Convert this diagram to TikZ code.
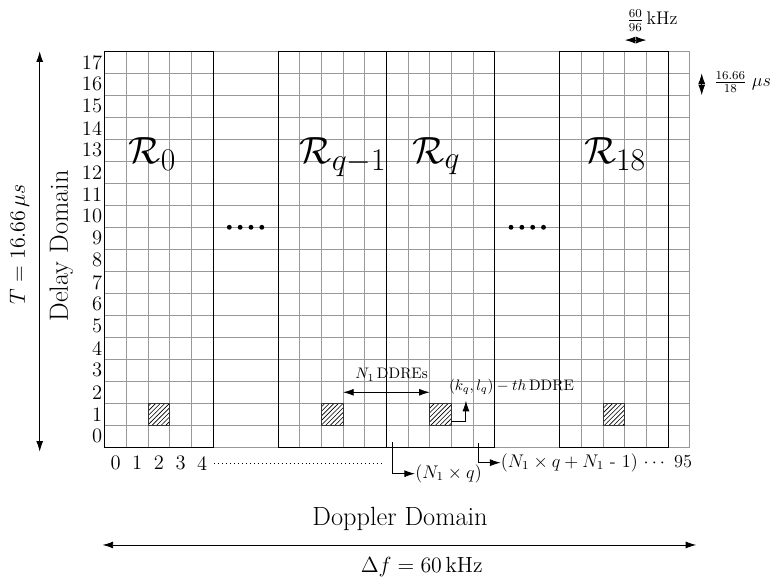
\documentclass[tikz,border=0pt]{standalone}
\usepackage{tikz}
\usetikzlibrary{arrows.meta, positioning, calc, patterns}
\usepackage{amsmath}
\usepackage{amssymb}
\tikzset{
    gridline/.style={draw=black!40, line width=0.5pt},
    block/.style={draw=black, line width=0.7pt},
    hatched/.style={draw=black!80, line width=0.4pt, pattern=north east lines},
    reglabel/.style={font=\Huge, inner sep=0pt, anchor=base},
    idxlabel/.style={font=\fontsize{13.5}{16}\selectfont, inner sep=1.5pt},
    sidelabel/.style={rotate=90, inner sep=0pt},
    note/.style={inner sep=0pt},
    arrow/.style={line width=0.6pt,->,>={Latex[length=7pt,width=4.6pt]}},
    dblarrow/.style={line width=0.6pt,<->,>={Latex[length=7pt,width=4.6pt]}}
}
\begin{document}
\begin{tikzpicture}[x=0.5cm, y=0.5076cm]
    \useasboundingbox (-4.832,-6.123) rectangle (31.255,20.332);

    \foreach \j in {0,...,18} \draw [gridline] (0,\j) -- (27,\j);
    \foreach \i in {0,1,2,3,4,5,8,9,...,18,21,22,...,27} \draw [gridline] (\i,0) -- (\i,18);
    \foreach \c in {2,10,15,23} \draw [hatched] (\c,1) rectangle ++(1,1);
    \draw [block] (0,0) rectangle (5,18);
    \draw [block] (8,0) rectangle (13,18);
    \draw [block] (13,0) rectangle (18,18);
    \draw [block] (21,0) rectangle (26,18);

    \foreach \k in {0,...,3} {
        \fill (5.75+0.5*\k,10) circle (1.6pt);
        \fill (18.75+0.5*\k,10) circle (1.6pt);
    }

    \node (r0) [reglabel] at (2.2,12.92) {$\mathcal{R}_0$};
    \node (rqm) [reglabel] at (11.0,12.92) {$\mathcal{R}_{q-1}$};
    \node (rq) [reglabel] at (15.3,12.92) {$\mathcal{R}_q$};
    \node (r18) [reglabel] at (23.55,12.92) {$\mathcal{R}_{18}$};

    \foreach \j in {0,...,17} \node (row\j) [idxlabel, anchor=east] at (0,\j+0.5) {\j};
    \foreach \i in {0,...,4} \node (col\i) [idxlabel] at (\i+0.5,-0.72) {\i};

    \coordinate (dotend) at (12.86,-0.72);
    \draw [dotted, line width=0.6pt] ([xshift=3pt]col4.east) -- (dotend);

    \coordinate (qs) at (13.27,0.25);
    \node (nq) [note, font=\large, anchor=west] at (14.32,-1.2) {$(N_1 \times q)$};
    \draw [arrow] (qs) |- (nq.west);

    \coordinate (qe) at (17.27,0.2);
    \node (nqe) [note, font=\large, anchor=west] at (18.27,-0.7) {$(N_1 \times q + N_1$ - $1)$ $\cdots$ 95};
    \draw [arrow] (qe) |- (nqe.west);

    \coordinate (nl) at (11,2.5);
    \coordinate (nr) at (15,2.5);
    \draw [dblarrow] (nl) -- (nr);
    \node (ndd) [note] at (13.24,3.29) {$N_1\,$DDREs};

    \coordinate (kls) at (16,1.17);
    \coordinate (klt) at (16.67,2.12);
    \draw [arrow] (kls) -| (klt);
    \node (kl) [note] at (18.77,2.75) {$(k_q, l_q)-th\,$DDRE};

    \coordinate (fl) at (24,18.51);
    \coordinate (fr) at (25,18.51);
    \draw [dblarrow] (fl) -- (fr);
    \node (flab) [note, font=\large, anchor=base west] at (24.09,19.2) {$\frac{60}{96}\,$kHz};

    \coordinate (tb) at (27.55,16);
    \coordinate (tt) at (27.55,17);
    \draw [dblarrow] (tb) -- (tt);
    \node (tlab) [note, font=\large, anchor=west] at (28.09,16.6) {$\frac{16.66}{18}\;\mu s$};

    \coordinate (ttop) at (-3,18);
    \coordinate (tbot) at (-3,-0.2);
    \draw [dblarrow] (tbot) -- (ttop);
    \node (period) [sidelabel, font=\Large] at (-3.93,9.24) {$T = 16.66\,\mu s$};
    \node (delay) [sidelabel, font=\LARGE] at (-2.0,9.15) {Delay Domain};

    \node (doppler) [note, font=\LARGE] at (13.63,-3.26) {Doppler Domain};
    \coordinate (dfl) at (-0.1,-4.44);
    \coordinate (dfr) at (27.3,-4.44);
    \draw [dblarrow] (dfl) -- (dfr);
    \node (df) [note, font=\Large] at (14.63,-5.44) {$\Delta f = 60\,\mathrm{kHz}$};
\end{tikzpicture}
\end{document}
